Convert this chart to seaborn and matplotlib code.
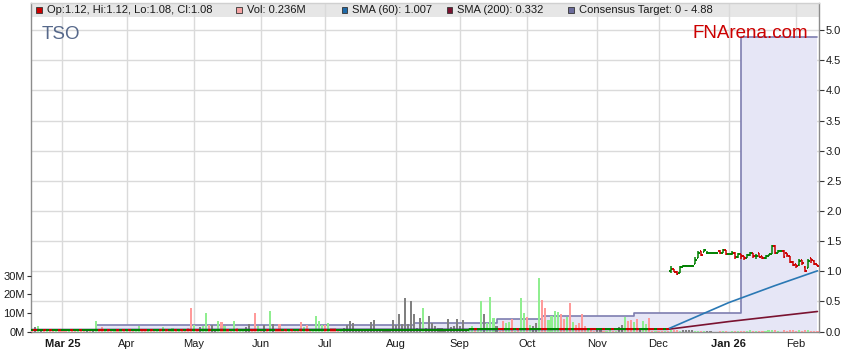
import numpy as np
import pandas as pd
import matplotlib
matplotlib.use("Agg")
import matplotlib.pyplot as plt
from matplotlib.patches import Rectangle
import seaborn as sns

# ---------------- data ----------------
# weekday grid of the chart (one slot per weekday)
dates = pd.bdate_range("2025-02-17", "2026-02-11")

# daily volume in millions of shares
volume_m = [
    0.4, 2.2, 3.0, 1.0, 0.3, 0.3, 0.4, 0.2, 0.3, 0.3,
    0.4, 0.3, 0.2, 0.3, 0.3, 0.4, 0.3, 0.3, 0.5, 0.4,
    0.5, 5.5, 0.4, 2.5, 0.3, 0.3, 0.4, 1.0, 0.3, 0.3,
    0.4, 0.3, 0.3, 0.3, 0.4, 3.0, 0.3, 0.4, 0.3, 1.5,
    0.3, 0.4, 0.3, 2.5, 0.3, 0.3, 1.8, 0.3, 0.4, 0.3,
    0.5, 2.0, 12.6, 3.5, 1.0, 2.5, 3.0, 10.0, 3.5, 3.5,
    1.5, 5.5, 5.0, 3.0, 0.5, 0.4, 5.5, 2.0, 0.8, 1.5,
    2.5, 4.0, 1.5, 10.0, 3.0, 0.5, 3.5, 0.5, 11.3, 4.0,
    0.5, 4.0, 0.5, 1.0, 1.5, 1.5, 0.8, 0.4, 5.0, 2.5,
    3.5, 0.5, 0.4, 8.1, 5.5, 3.5, 3.5, 4.5, 2.0, 2.0,
    0.4, 0.6, 2.0, 3.5, 5.5, 4.5, 0.5, 1.0, 0.3, 0.4,
    0.5, 5.0, 6.0, 0.5, 1.0, 0.4, 1.0, 0.5, 6.0, 3.5,
    9.3, 4.0, 18.3, 4.0, 16.3, 9.5, 2.0, 7.5, 12.6, 2.0,
    8.6, 4.5, 3.0, 2.0, 2.0, 1.0, 6.5, 2.5, 3.0, 7.0,
    3.0, 6.0, 1.5, 2.0, 3.0, 1.5, 1.0, 16.2, 9.5, 4.5,
    18.5, 7.5, 3.0, 0.5, 5.5, 4.5, 5.0, 6.5, 0.5, 0.6,
    18.0, 10.0, 8.0, 3.5, 3.0, 4.5, 29.0, 17.0, 12.5, 6.0,
    8.5, 11.3, 10.5, 9.5, 6.5, 8.0, 15.5, 5.0, 3.5, 4.5,
    9.2, 3.0, 1.0, 1.5, 0.5, 0.6, 1.5, 0.5, 0.4, 1.0,
    0.5, 0.4, 2.5, 3.5, 7.7, 5.5, 6.0, 5.0, 6.5, 2.0,
    5.5, 4.0, 7.2, 0.5, 0.4, 0.4, 0.3, 0.3, 0.4, 0.8,
    0.6, 0.7, 0.5, 1.0, 1.0, 0.9, 0.9, 0.4, 0.5, 0.4,
    0.5, 0.3, 0.2, 0.0, 0.0, 0.4, 0.5, 0.4, 0.0, 0.4,
    0.5, 0.4, 0.5, 0.4, 0.5, 0.6, 0.4, 0.5, 0.4, 0.5,
    0.4, 0.6, 0.9, 0.7, 0.5, 0.0, 0.6, 0.5, 0.7, 0.6,
    0.5, 0.6, 0.4, 0.8, 0.6, 0.5, 0.4, 0.236,
]
# volume bar direction: g = up, r = down, n = unchanged
vol_dir = (
    "rngnrgrrgr" "rrgrrgrrnr" "ngrrgrrgrg" "rgrrggrrgr" "rgrgrrgrgr"
    "rrrgrnggrn" "ngrgrrgrgg" "nnrrgrnrgn" "rrrrgrrrrg" "rrggggrgrr"
    "rgnnnnnnnn" "nnnnnnnnnn" "nnnnnnnngn" "nnnnnnnnnn" "nnnggrggng"
    "ggnrrggrgr" "ggrgnngrrg" "gggrrgrgrr" "rrgrrnnrgg" "rgnngrrgrn"
    "ggrrgrrgrg" "rrgnnnnggr" "gnnnnrgrng" "rgrrggrgrr" "gggrgnrrrr"
    "rgrrgrrr"
)

# closing price before the December re-listing jump, in thousandths of a dollar
pre_close_milli = [
    32, 31, 31, 31, 30, 31, 30, 30, 31, 30, 30, 30, 31, 30, 30, 31, 30, 30, 30, 30,
    30, 32, 31, 30, 31, 30, 30, 31, 30, 31, 30, 31, 30, 30, 31, 32, 31, 30, 31, 30,
    30, 31, 30, 31, 30, 30, 31, 30, 31, 30, 30, 29, 28, 30, 29, 29, 30, 32, 31, 31,
    31, 32, 31, 32, 31, 31, 32, 31, 32, 32, 32, 32, 31, 30, 31, 31, 31, 30, 32, 32,
    31, 30, 30, 29, 30, 29, 29, 29, 28, 29, 28, 28, 29, 31, 32, 33, 32, 33, 32, 31,
    31, 32, 32, 32, 32, 32, 32, 32, 32, 32, 32, 32, 32, 32, 32, 32, 32, 32, 32, 32,
    32, 32, 32, 32, 32, 32, 32, 32, 33, 33, 33, 33, 33, 33, 33, 33, 33, 33, 33, 33,
    33, 33, 33, 34, 35, 34, 35, 37, 37, 38, 40, 41, 41, 40, 39, 40, 41, 40, 41, 40,
    42, 43, 42, 43, 43, 43, 45, 43, 42, 43, 44, 45, 46, 45, 44, 45, 43, 44, 43, 42,
    41, 40, 41, 40, 39, 39, 39, 38, 39, 40, 39, 40, 40, 40, 41, 40, 39, 40, 39, 39,
    40, 41, 40, 39, 40, 39, 38, 39, 38,
]

# OHLC from 5 Dec 2025 (slot 209) to 11 Feb 2026 (slot 257)
post_open = [1.00, 1.03, 0.99, 0.97, 1.07, 1.08, 1.08, 1.08, 1.12, 1.22, 1.33, 1.32, 1.31, 1.31, 1.31, 1.31,
             1.33, 1.30, 1.35, 1.29, 1.28, 1.31, 1.24, 1.28, 1.25, 1.22, 1.27, 1.30, 1.25, 1.30, 1.26, 1.22,
             1.26, 1.28, 1.42, 1.30, 1.34, 1.34, 1.30, 1.25, 1.16, 1.12, 1.10, 1.18, 1.07, 1.06, 1.22, 1.17, 1.12]
post_high = [1.09, 1.04, 1.00, 1.09, 1.10, 1.10, 1.10, 1.10, 1.23, 1.34, 1.34, 1.37, 1.33, 1.31, 1.31, 1.31,
             1.35, 1.37, 1.35, 1.29, 1.34, 1.32, 1.31, 1.29, 1.26, 1.29, 1.32, 1.30, 1.29, 1.31, 1.26, 1.27,
             1.29, 1.44, 1.43, 1.36, 1.34, 1.35, 1.31, 1.26, 1.17, 1.12, 1.20, 1.19, 1.08, 1.20, 1.22, 1.18, 1.12]
post_low = [0.97, 0.98, 0.93, 0.97, 1.07, 1.08, 1.08, 1.08, 1.12, 1.22, 1.26, 1.32, 1.30, 1.31, 1.31, 1.31,
            1.28, 1.30, 1.27, 1.29, 1.27, 1.21, 1.22, 1.21, 1.19, 1.22, 1.26, 1.22, 1.21, 1.23, 1.20, 1.21,
            1.25, 1.28, 1.29, 1.30, 1.34, 1.22, 1.24, 1.14, 1.09, 1.05, 1.09, 1.11, 0.98, 1.05, 1.13, 1.10, 1.08]
post_close = [1.03, 0.99, 0.95, 1.07, 1.09, 1.09, 1.09, 1.09, 1.19, 1.30, 1.27, 1.36, 1.31, 1.31, 1.31, 1.31,
              1.30, 1.35, 1.29, 1.29, 1.31, 1.24, 1.28, 1.25, 1.22, 1.27, 1.30, 1.25, 1.26, 1.24, 1.22, 1.26,
              1.28, 1.42, 1.31, 1.34, 1.34, 1.24, 1.27, 1.16, 1.11, 1.08, 1.17, 1.14, 1.00, 1.17, 1.19, 1.12, 1.08]

# moving averages (slot, value)
sma60_slot = [0, 150, 208, 218, 228, 243, 257]
sma60_val = [0.030, 0.033, 0.040, 0.26, 0.48, 0.76, 1.007]
sma200_slot = [0, 208, 228, 257]
sma200_val = [0.030, 0.036, 0.165, 0.332]

# consensus target changes (slot where the new value starts)
target_slot = [21, 125, 152, 167, 197, 232, 257]
target_val = [0.10, 0.145, 0.205, 0.26, 0.31, 4.88, 4.88]

month_labels = ["Mar 25", "Apr", "May", "Jun", "Jul", "Aug", "Sep", "Oct", "Nov", "Dec", "Jan 26", "Feb"]
bold_labels = ["Mar 25", "Jan 26"]
price_ticks = [0.0, 0.5, 1.0, 1.5, 2.0, 2.5, 3.0, 3.5, 4.0, 4.5, 5.0]
vol_ticks = [0, 10, 20, 30]
vol_tick_labels = ["0M", "10M", "20M", "30M"]

legend_items = [
    ("Op:1.12, Hi:1.12, Lo:1.08, Cl:1.08", "#cc0000"),
    ("Vol: 0.236M", "#f5a3a3"),
    ("SMA (60): 1.007", "#1f6aa8"),
    ("SMA (200): 0.332", "#7a1230"),
    ("Consensus Target: 0 - 4.88", "#6c6c9c"),
]

# ---------------- style ----------------
sns.set_style("white")
plt.rcParams["font.family"] = ["Liberation Sans", "DejaVu Sans"]
plt.rcParams["font.size"] = 8

W, H = 859, 363
fig = plt.figure(figsize=(W / 100, H / 100), dpi=100)
fig.patch.set_facecolor("white")
ax = fig.add_axes([30.7 / W, 31.5 / H, 788.6 / W, 328.5 / H])
ax_vol = ax.twinx()
ax_price = ax.twinx()

P_TOP = 5.452
V_TOP = 176.9
n = len(dates)
slots = np.arange(n)

# ---- base layer: header band, consensus target ----
ax.set_ylim(0, P_TOP)
ax.axhspan(5.22, P_TOP + 0.05, color="#e6e6e6", lw=0, zorder=0.1)
ax.fill_between(target_slot, target_val, step="post", color="#e6e6f6", lw=0, zorder=1)
sns.lineplot(x=target_slot, y=target_val, ax=ax, color="#7e7eb0", lw=1.2,
             drawstyle="steps-post", estimator=None, zorder=2)

# ---- volume layer ----
vol_df = pd.DataFrame({"slot": slots, "vol": volume_m, "dir": list(vol_dir)})
palette = {"g": "#90ee90", "r": "#ff9a9a", "n": "#808080"}
sns.barplot(data=vol_df, x="slot", y="vol", hue="dir", palette=palette,
            hue_order=["g", "r", "n"], dodge=False, width=0.7, errorbar=None,
            legend=False, saturation=1, linewidth=0, ax=ax_vol)
ax_vol.set_ylim(0, V_TOP)

# ---- price layer ----
pre_close = np.array(pre_close_milli) / 1000.0
pre_open = np.concatenate([[pre_close[0]], pre_close[:-1]])
opens = np.concatenate([pre_open, post_open])
closes = np.concatenate([pre_close, post_close])
highs = np.concatenate([np.maximum(pre_open, pre_close), post_high])
lows = np.concatenate([np.minimum(pre_open, pre_close), post_low])
cols = np.where(closes >= opens, "#008000", "#cc0000")

sns.lineplot(x=sma200_slot, y=sma200_val, ax=ax_price, color="#7a1230", lw=1.2, estimator=None)
sns.lineplot(x=sma60_slot, y=sma60_val, ax=ax_price, color="#2a78b4", lw=1.2, estimator=None)
ax_price.vlines(slots, lows, highs, colors=cols, lw=1.1)
ax_price.hlines(opens, slots - 0.5, slots, colors=cols, lw=1.4)
ax_price.hlines(closes, slots, slots + 0.5, colors=cols, lw=1.4)
ax_price.set_ylim(0, P_TOP)

# ---------------- axes cosmetics ----------------
month_pos = [i for i in range(1, n) if dates[i].month != dates[i - 1].month]
ax.set_xlim(-0.4, 257.6)
ax.set_xticks(month_pos)
ax.set_xticklabels(month_labels)
for t in ax.get_xticklabels():
    if t.get_text() in bold_labels:
        t.set_fontweight("bold")
ax.tick_params(axis="x", length=3, width=0.8, color="#888888", pad=2.5,
               labelsize=8, labelcolor="#1a1a1a")

ax.yaxis.tick_right()
ax.set_yticks(price_ticks)
ax.set_yticklabels([f"{v:.1f}" for v in price_ticks])
ax.tick_params(axis="y", right=True, left=False, length=3.3, width=0.8,
               color="#333333", pad=1.5, labelsize=8, labelcolor="#1a1a1a")
ax.grid(True, color="#dadada", lw=1)
ax.set_axisbelow(True)
ax.set_xlabel("")
ax.set_ylabel("")

ax_vol.yaxis.tick_left()
ax_vol.set_yticks(vol_ticks)
ax_vol.set_yticklabels(vol_tick_labels)
ax_vol.tick_params(axis="y", left=True, right=False, length=3, width=0.8,
                   color="#333333", pad=1.2, labelsize=8, labelcolor="#1a1a1a")
ax_vol.set_xlabel("")
ax_vol.set_ylabel("")
ax_vol.grid(False)
ax_price.grid(False)
ax_price.yaxis.set_visible(False)
ax_price.set_ylabel("")

for a in (ax_vol, ax_price):
    for s in a.spines.values():
        s.set_visible(False)
for name, s in ax.spines.items():
    s.set_visible(True)
    s.set_color("#8c8c8c" if name != "top" else "#d0d0d0")
    s.set_linewidth(1)

# ---------------- header texts ----------------
fig.text(42 / W, 1 - 39.3 / H, "TSO", fontsize=13.5, color="#56688a", va="baseline", ha="left")
fig.text(692 / W, 1 - 37.8 / H, "FNArena.com", fontsize=13.5, color="#cc0000", va="baseline", ha="left")

leg_sq_x = [36.0, 236.0, 341.7, 446.7, 568.3]
for (label, color), sx in zip(legend_items, leg_sq_x):
    fig.add_artist(Rectangle((sx / W, 1 - 12.6 / H), 5.5 / W, 5.5 / H, transform=fig.transFigure,
                             facecolor=color, edgecolor="#333333", lw=0.6))
    fig.text((sx + 10.7) / W, 1 - 10.2 / H, label, fontsize=8, color="#1a1a1a", va="center", ha="left")

fig.savefig("out.png", dpi=100)
